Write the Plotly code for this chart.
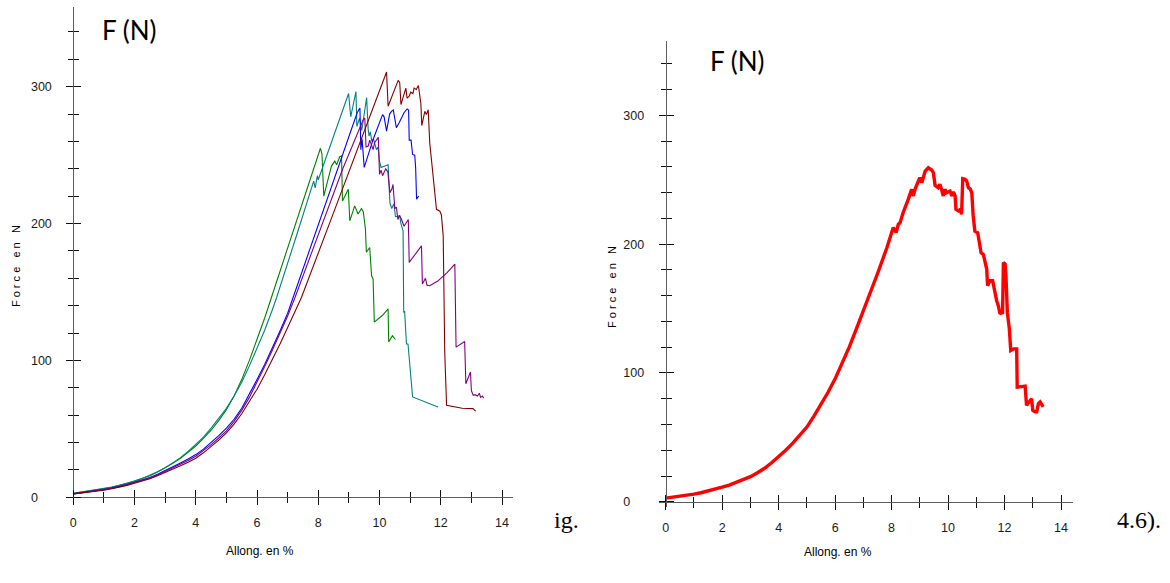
import plotly.graph_objects as go

W, H = 1170, 583

# ---------------- data (left chart: 5 specimens) ----------------
green_x = [0, 0.25, 0.5, 0.75, 1, 1.25, 1.5, 1.75, 2, 2.25, 2.5, 2.75, 3, 3.25, 3.5, 3.75, 4, 4.25, 4.5, 4.75,
           5, 5.25, 5.5, 5.75, 6, 6.25, 6.47, 7, 7.5, 8.07, 8.12, 8.18, 8.43, 8.54,
           8.6, 8.7, 8.76, 8.79, 8.98, 9.03, 9.19, 9.3, 9.41, 9.47, 9.54, 9.57, 9.68, 9.74, 9.79, 9.83,
           10.1, 10.28, 10.3, 10.42, 10.52]
green_y = [3, 3.7, 4.5, 5.3, 6.2, 7.3, 8.6, 10.1, 11.8, 13.7, 15.8, 18.5, 21.5, 24.8, 28.5, 32.7, 37.5, 43, 49, 56,
           64, 74, 86, 100, 115, 131, 146, 182, 216, 255, 251, 220, 242, 245.6,
           243, 248.8, 249.3, 216.5, 225, 202, 212.9, 207, 211, 208.6, 196, 179, 182.5, 162, 159.5, 128,
           133, 137.6, 113.5, 118, 115.3]

teal_x = [0, 0.25, 0.5, 0.75, 1, 1.25, 1.5, 1.75, 2, 2.25, 2.5, 2.75, 3, 3.25, 3.5, 3.75, 4, 4.25, 4.5, 4.75,
          5, 5.25, 5.5, 5.75, 6, 6.25, 6.5, 6.64, 7.3, 7.85, 7.9, 7.97, 8.0, 8.99, 9.06,
          9.23, 9.26, 9.35, 9.42, 9.58, 9.63, 9.66, 9.7, 9.75, 9.8, 9.9, 9.95, 10.0, 10.05, 10.15, 10.28,
          10.34, 10.4, 10.47, 10.52, 10.66, 10.7, 10.77, 10.79, 10.82, 10.88, 10.93, 11.08, 11.91]
teal_y = [3, 3.8, 4.6, 5.4, 6.3, 7.4, 8.7, 10.2, 11.8, 13.8, 16, 18.6, 21.5, 25, 29, 33.5, 38.5, 44, 50.5, 57.5,
          65, 74, 84, 96, 109, 122, 137, 146, 192, 231, 226, 235, 232, 295, 278,
          296.5, 271, 277, 268, 292, 268.7, 264, 267, 260, 262, 254, 256, 245.6, 241, 242, 243,
          215, 211, 214.5, 205, 205.6, 200, 194.6, 135, 136, 112, 112, 73.3, 66]

blue_x = [0, 0.25, 0.5, 0.75, 1, 1.25, 1.5, 1.75, 2, 2.25, 2.5, 2.75, 3, 3.25, 3.5, 3.75, 4, 4.25, 4.5, 4.75,
          5, 5.25, 5.5, 5.75, 6, 6.25, 6.5, 6.75, 7, 7.18, 8, 8.6, 9.19, 9.27, 9.36, 9.39,
          9.43, 9.46, 9.5, 9.8, 10.1, 10.15, 10.23, 10.33, 10.39, 10.45, 10.55, 10.65, 10.8, 10.9, 10.95,
          10.97, 11.03, 11.08, 11.15, 11.18, 11.21, 11.24, 11.28]
blue_y = [2.5, 3.2, 4, 4.8, 5.6, 6.7, 7.9, 9.4, 11, 12.7, 14.5, 16.9, 19.5, 22.2, 25.1, 28, 31.2, 35.2, 40, 45,
          50.5, 57, 65, 75, 86, 97, 109, 121.5, 134.5, 146, 199, 237, 276, 281, 284.5, 254,
          262, 250, 241, 262, 279.6, 278, 267.5, 280, 282, 283, 270, 274, 281, 283.8, 283,
          261, 261, 250.5, 250, 240.8, 217.7, 219, 220]

purple_x = [0, 0.25, 0.5, 0.75, 1, 1.25, 1.5, 1.75, 2, 2.25, 2.5, 2.75, 3, 3.25, 3.5, 3.75, 4, 4.25, 4.5, 4.75,
            5, 5.25, 5.5, 5.75, 6, 6.25, 6.5, 6.75, 7, 7.24, 8, 8.8, 9.47, 9.52, 9.56, 9.63,
            9.68, 9.79, 9.84, 9.96, 10.0, 10.05, 10.1, 10.2, 10.27, 10.34, 10.4, 10.44, 10.5, 10.55, 10.6,
            10.65, 10.72, 10.8, 10.94, 10.97, 11.37, 11.4, 11.5, 11.55, 11.64, 11.9, 12.2, 12.46, 12.5,
            12.6, 12.78, 12.82, 12.97, 13.0, 13.06, 13.12, 13.2, 13.26, 13.3, 13.36, 13.4]
purple_y = [2.5, 3.2, 4, 4.7, 5.5, 6.5, 7.6, 9.1, 10.7, 12.3, 14, 16.3, 18.8, 21.3, 24, 26.9, 30, 34, 38.5, 43.3,
            48.5, 55.5, 63.5, 73, 84, 95.5, 107.5, 120, 132.5, 146, 192, 240, 276, 277, 256, 256.6,
            261, 254, 259, 263, 236, 239, 235, 240, 238, 222.6, 225, 228.6, 211, 212, 203,
            206, 203, 198, 203, 171.6, 183.7, 155.8, 160, 155, 154.6, 158, 164, 170.4, 109.7,
            111, 113.8, 83, 91.5, 78, 74.5, 75, 74, 76, 73, 74, 72.6]

maroon_x = [0, 0.25, 0.5, 0.75, 1, 1.25, 1.5, 1.75, 2, 2.25, 2.5, 2.75, 3, 3.25, 3.5, 3.75, 4, 4.25, 4.5, 4.75,
            5, 5.25, 5.5, 5.75, 6, 6.25, 6.5, 6.75, 7, 7.25, 7.45, 8.5, 9.4, 10.23, 10.28, 10.45,
            10.61, 10.66, 10.7, 10.78, 10.86, 10.9, 10.97, 11.02, 11.09, 11.13, 11.2, 11.27, 11.3, 11.35,
            11.38, 11.48, 11.53, 11.59, 11.64, 11.7, 11.8, 11.86, 11.97, 12.02, 12.08, 12.1, 12.13, 12.19,
            12.7, 13.05, 13.1, 13.14]
maroon_y = [2.5, 3.1, 3.8, 4.5, 5.2, 6.2, 7.3, 8.7, 10.2, 11.8, 13.5, 15.7, 18, 20.4, 23, 25.6, 28.5, 32.5, 37, 41.8,
            47, 53.5, 61, 69.5, 79, 89.5, 100.5, 112, 124, 136, 146, 208, 261, 310.7, 285.7, 295,
            304.6, 303, 287, 293, 299, 291.7, 293, 296, 295, 299, 298, 300.9, 296, 287.7,
            271.6, 282, 279.6, 283.2, 259, 244.4, 222.6, 210.4, 209, 206.5, 191, 146, 106, 67.2,
            65, 64.8, 64, 62.9]

# ---------------- data (right chart: mean curve) ----------------
red_x = [0, 0.25, 0.5, 0.75, 1, 1.25, 1.5, 1.75, 2, 2.25, 2.5, 2.75, 3, 3.25, 3.5, 3.75, 4, 4.25, 4.5, 4.75,
         5, 5.25, 5.5, 5.75, 6.0, 6.25, 6.5, 6.75, 7.0, 7.25, 7.5, 7.83, 8.06, 8.16,
         8.24, 8.3, 8.41, 8.59, 8.71, 8.77, 8.83, 8.95, 9.0, 9.07, 9.13, 9.19, 9.3, 9.42, 9.48, 9.54, 9.65,
         9.71, 9.77, 9.83, 9.89, 9.95, 10.07, 10.13, 10.19, 10.25, 10.28, 10.37, 10.43, 10.48, 10.52, 10.6,
         10.66, 10.72, 10.78, 10.84, 10.89, 10.95, 11.05, 11.13, 11.17, 11.25, 11.31, 11.37, 11.4, 11.48,
         11.58, 11.63, 11.66, 11.72, 11.78, 11.84, 11.9, 11.93, 11.96, 12.02, 12.05, 12.1, 12.17, 12.22,
         12.33, 12.43, 12.45, 12.67, 12.73, 12.78, 12.88, 12.96, 13.0, 13.08, 13.14, 13.2, 13.26, 13.31, 13.37]
red_y = [2.8, 3.5, 4.3, 5.1, 5.9, 7.0, 8.3, 9.7, 11.3, 13, 15, 17.2, 19.5, 22.5, 26, 30.3, 35, 40, 45.5, 51.5,
         58, 66.5, 75.5, 85, 95.4, 107, 120, 134, 148, 162.5, 177, 197, 212.9, 209,
         215.4, 216.6, 224.5, 234.8, 242.5, 237.4, 242.5, 249, 251.6, 247.7, 252.9, 256.7, 259.3, 257.5, 255.5, 245.6, 243.8,
         246.4, 242.5, 237.4, 242.5, 239.9, 241.2, 237.4, 240.5, 237.4, 227, 225.8, 227, 223.2, 250.8, 250.3,
         249, 243.8, 243, 240, 221.9, 210, 208.8, 198.5, 193.3, 192, 184.3, 180.5, 167.7, 171.6,
         171.6, 165.1, 160, 156.1, 152.2, 145.8, 147.1, 145.8, 185.8, 184.5, 175.5, 147, 134.2, 117.4,
         118.7, 118.7, 89, 89.8, 89.8, 74.9, 77.5, 80, 71, 69.8, 69.8, 76.2, 77.5, 75, 73.6]

x_tick_vals = [0, 2, 4, 6, 8, 10, 12, 14]
y_tick_vals = [0, 100, 200, 300]
x_tick_text = ["0", "2", "4", "6", "8", "10", "12", "14"]
y_tick_text = ["0\u00a0\u00a0\u00a0\u00a0", "100", "200", "300"]

# ---------------- layout geometry (pixels) ----------------
# left chart
L_x0px, L_x14px = 73.3, 502.0
L_xline = (67.0, 513.0)
L_y0px, L_y300px = 499.0, 87.0
L_yline = (7.0, 505.0)
# right chart
R_x0px, R_x14px = 665.7, 1061.0
R_xline = (659.0, 1073.0)
R_y0px, R_y300px = 503.5, 115.7
R_yline = (40.7, 509.0)


def x_range(x0px, x14px, line):
    s = (x14px - x0px) / 14.0
    return [(line[0] - x0px) / s, (line[1] - x0px) / s], [line[0] / W, line[1] / W]


def y_range(y0px, y300px, line):
    s = (y0px - y300px) / 300.0
    return [(y0px - line[1]) / s, (y0px - line[0]) / s], [1 - line[1] / H, 1 - line[0] / H]


Lxr, Lxd = x_range(L_x0px, L_x14px, L_xline)
Lyr, Lyd = y_range(L_y0px, L_y300px, L_yline)
Rxr, Rxd = x_range(R_x0px, R_x14px, R_xline)
Ryr, Ryd = y_range(R_y0px, R_y300px, R_yline)

TICKFONT = dict(family="Liberation Sans, Arial, sans-serif", size=12.5, color="#1a1a1a")
LINEC = "#5c5c5c"
TICKC = "#111111"


def xaxis(domain, rng, pos, ticks, main):
    d = dict(domain=domain, range=rng, anchor="free", position=pos, showgrid=False, zeroline=False,
             showline=main, linecolor=LINEC, linewidth=1,
             tickmode="array", tickvals=x_tick_vals, ticktext=x_tick_text,
             ticks=ticks, ticklen=7, tickwidth=1, tickcolor=TICKC,
             minor=dict(tickmode="linear", tick0=0, dtick=1, ticks=ticks, ticklen=5, tickwidth=1,
                        tickcolor=TICKC, showgrid=False),
             showticklabels=main, tickfont=TICKFONT, fixedrange=True, ticklabelstandoff=7)
    return d


def yaxis(domain, rng, pos, ticks, main):
    d = dict(domain=domain, range=rng, anchor="free", position=pos, showgrid=False, zeroline=False,
             showline=main, linecolor=LINEC, linewidth=1,
             tickmode="array", tickvals=y_tick_vals, ticktext=y_tick_text,
             ticks=ticks, ticklen=7, tickwidth=1, tickcolor=TICKC,
             minor=dict(tickmode="linear", tick0=0, dtick=20, ticks=ticks, ticklen=5, tickwidth=1,
                        tickcolor=TICKC, showgrid=False),
             showticklabels=main, tickfont=TICKFONT, fixedrange=True, ticklabelstandoff=12)
    return d


fig = go.Figure()

series = [
    (green_x, green_y, "#008000"),
    (teal_x, teal_y, "#008080"),
    (blue_x, blue_y, "#0000ff"),
    (purple_x, purple_y, "#800080"),
    (maroon_x, maroon_y, "#800000"),
]
for xs, ys, c in series:
    fig.add_trace(go.Scatter(x=xs, y=ys, mode="lines", line=dict(color=c, width=1.1),
                             xaxis="x", yaxis="y", showlegend=False, hoverinfo="skip"))

fig.add_trace(go.Scatter(x=red_x, y=red_y, mode="lines", line=dict(color="#ff0000", width=3.4),
                         xaxis="x2", yaxis="y2", showlegend=False, hoverinfo="skip"))

# empty traces so the "inside" tick axes (for crossing ticks) are drawn
fig.add_trace(go.Scatter(x=[None], y=[None], xaxis="x3", yaxis="y3", showlegend=False, hoverinfo="skip"))
fig.add_trace(go.Scatter(x=[None], y=[None], xaxis="x4", yaxis="y4", showlegend=False, hoverinfo="skip"))

Lxpos = 1 - L_y0px / H
Lypos = L_x0px / W
Rxpos = 1 - R_y0px / H
Rypos = R_x0px / W

x3 = xaxis(Lxd, Lxr, Lxpos, "inside", False); x3["overlaying"] = "x"
y3 = yaxis(Lyd, Lyr, Lypos, "inside", False); y3["overlaying"] = "y"
x4 = xaxis(Rxd, Rxr, Rxpos, "inside", False); x4["overlaying"] = "x2"
y4 = yaxis(Ryd, Ryr, Rypos, "inside", False); y4["overlaying"] = "y2"

fig.update_layout(
    width=W, height=H,
    margin=dict(l=0, r=0, t=0, b=0),
    paper_bgcolor="white", plot_bgcolor="rgba(0,0,0,0)",
    showlegend=False,
    xaxis=xaxis(Lxd, Lxr, Lxpos, "outside", True),
    yaxis=yaxis(Lyd, Lyr, Lypos, "outside", True),
    xaxis2=xaxis(Rxd, Rxr, Rxpos, "outside", True),
    yaxis2=yaxis(Ryd, Ryr, Rypos, "outside", True),
    xaxis3=x3, yaxis3=y3, xaxis4=x4, yaxis4=y4,
)


def ann(text, xpx, ypx, size, family, angle=0, color="#000000"):
    fig.add_annotation(text=text, x=xpx / W, y=1 - ypx / H, xref="paper", yref="paper",
                       xanchor="center", yanchor="middle", showarrow=False, textangle=angle,
                       font=dict(family=family, size=size, color=color))


SANS = "Liberation Sans, Arial, sans-serif"
TITLEF = "Lato, sans-serif"
SERIF = "Liberation Serif"
sp = "\u00a0"
force_title = f"F{sp}o{sp}r{sp}c{sp}e{sp}{sp}{sp}e{sp}n{sp}{sp}{sp}N"

ann("F (N)", 129, 30, 26, TITLEF)
ann("F (N)", 737, 61, 26, TITLEF)
ann(force_title, 16, 267, 11, SANS, angle=-90)
ann(force_title, 612, 288, 11, SANS, angle=-90)
ann("Allong. en %", 260, 553, 12, SANS)
ann("Allong. en %", 838, 554, 12, SANS)
ann("ig.", 566, 522, 24, SERIF)
ann("4.6).", 1139, 522, 24, SERIF)

fig.write_html("out.html")
